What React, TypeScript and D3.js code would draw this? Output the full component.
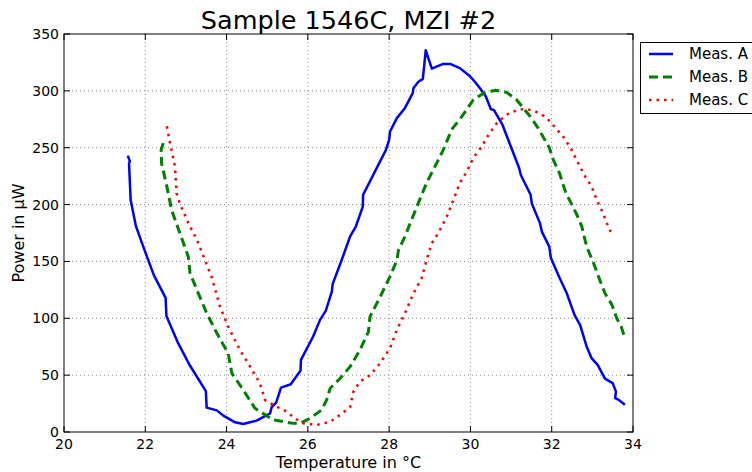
import React from "react";
import * as d3 from "d3";

const title = "Sample 1546C, MZI #2";
const xTicks = [20, 22, 24, 26, 28, 30, 32, 34];
const yTicks = [0, 50, 100, 150, 200, 250, 300, 350];

const tempA = [21.57, 21.62, 21.6, 21.64, 21.77, 21.95, 22.21, 22.5, 22.52, 22.79, 23.08, 23.49, 23.51, 23.76, 23.92, 24.21, 24.41, 24.74, 25.07, 25.11, 25.22, 25.34, 25.58, 25.82, 25.83, 26.13, 26.3, 26.44, 26.59, 26.61, 26.83, 27.04, 27.18, 27.35, 27.36, 27.65, 27.92, 28.0, 28.02, 28.19, 28.39, 28.58, 28.6, 28.72, 28.83, 28.9, 29.05, 29.33, 29.5, 29.74, 29.99, 30.11, 30.24, 30.38, 30.5, 30.58, 30.79, 30.93, 31.2, 31.24, 31.48, 31.51, 31.71, 31.76, 31.94, 31.98, 32.2, 32.37, 32.56, 32.7, 32.86, 32.98, 33.13, 33.31, 33.5, 33.58, 33.56, 33.66, 33.8];
const powerA = [243, 238, 236, 204, 181, 163, 138, 118, 102, 79.5, 59.6, 36, 21.4, 19, 14.4, 8.5, 7, 10, 16.4, 22, 25.8, 39, 42, 54, 63.4, 84, 98.6, 106.5, 123.5, 130, 151, 172, 180.7, 198, 208.6, 229, 248, 257, 264, 276, 285, 298, 302.5, 308, 310.5, 335.7, 319.5, 323.7, 323.7, 320, 312.8, 308, 302, 295, 284, 283, 270, 257, 232, 226, 208.6, 201, 183.7, 176, 163, 153, 135, 122, 103, 94, 75, 65, 59, 47, 43, 35.5, 29.7, 28, 24];

const tempB = [22.44, 22.39, 22.4, 22.53, 22.65, 22.85, 23.06, 23.1, 23.27, 23.51, 23.76, 24.04, 24.13, 24.41, 24.7, 25.15, 25.64, 25.81, 26.05, 26.34, 26.46, 26.55, 26.79, 27.04, 27.28, 27.49, 27.53, 27.78, 28.02, 28.19, 28.23, 28.39, 28.68, 28.92, 29.17, 29.33, 29.54, 29.79, 30.07, 30.32, 30.61, 30.89, 31.14, 31.47, 31.67, 31.94, 32.04, 32.19, 32.35, 32.48, 32.62, 32.74, 32.86, 33.03, 33.15, 33.31, 33.48, 33.6, 33.71, 33.8];
const powerB = [254, 248, 236.5, 216, 195, 175, 154, 139.7, 125, 104.5, 87, 69, 51.6, 37, 20.8, 10.6, 7.6, 7.6, 12, 19.4, 28, 38.5, 47, 57.5, 72, 88, 101.5, 119, 136.7, 151, 160, 172, 198, 219, 236.5, 248, 266, 277.5, 292, 298, 300.5, 298.7, 292, 277.5, 267, 250, 239.4, 227.7, 210, 201, 191, 180.7, 163, 148.5, 136.7, 122, 112, 100, 92.7, 82.5];

const tempC = [22.53, 22.61, 22.73, 22.77, 22.85, 23.06, 23.27, 23.47, 23.63, 23.84, 24.04, 24.33, 24.58, 24.82, 24.95, 25.15, 25.48, 25.68, 25.89, 26.22, 26.55, 26.79, 27.04, 27.12, 27.28, 27.53, 27.78, 28.02, 28.19, 28.39, 28.6, 28.8, 28.92, 29.05, 29.21, 29.42, 29.58, 29.74, 29.91, 30.07, 30.28, 30.44, 30.65, 30.89, 31.18, 31.38, 31.59, 31.86, 32.08, 32.31, 32.49, 32.63, 32.8, 32.98, 33.11, 33.26, 33.39, 33.45];
const powerC = [268.8, 254, 233.5, 210, 201, 183.7, 169, 151, 136.7, 110, 92.7, 72, 57.5, 42.8, 28, 23.8, 17.9, 12, 7.6, 6.2, 9, 15, 22, 35.5, 44.3, 50, 60.5, 73.7, 89.8, 104.5, 122, 135.3, 151, 166, 175, 189.5, 204, 219, 229, 241, 251, 261, 271.7, 279, 283.5, 284, 282, 277, 268, 258.5, 248, 238, 226, 216, 204, 192.5, 180.7, 176];

const seriesNames = ["Meas. A", "Meas. B", "Meas. C"];

const W = 752, H = 472;
const M = { left: 64, right: 633, top: 34, bottom: 432 };
const FONT = "DejaVu Sans, sans-serif";

export default function App() {
  const x = d3.scaleLinear().domain([20, 34]).range([M.left, M.right]);
  const y = d3.scaleLinear().domain([0, 350]).range([M.bottom, M.top]);
  const line = d3.line<[number, number]>().x(d => x(d[0])).y(d => y(d[1]));
  const series = [
    { name: seriesNames[0], t: tempA, p: powerA, color: "#0000ff", width: 2.5, dash: undefined as string | undefined },
    { name: seriesNames[1], t: tempB, p: powerB, color: "#008000", width: 3, dash: "9,5" },
    { name: seriesNames[2], t: tempC, p: powerC, color: "#ff0000", width: 2.5, dash: "2.5,5" },
  ];
  return (
    <div style={{ position: "absolute", left: 0, top: 0 }}>
      <svg width={W} height={H} style={{ display: "block", background: "#fff" }} fontFamily={FONT}>
        <rect x={0} y={0} width={W} height={H} fill="#fff" />
        <defs>
          <clipPath id="plotclip">
            <rect x={M.left} y={M.top} width={M.right - M.left} height={M.bottom - M.top} />
          </clipPath>
        </defs>
        {xTicks.slice(1, -1).map(t => (
          <line key={"gx" + t} x1={x(t)} x2={x(t)} y1={M.top} y2={M.bottom} stroke="#888" strokeWidth={1} strokeDasharray="1,3" />
        ))}
        {yTicks.slice(1, -1).map(t => (
          <line key={"gy" + t} x1={M.left} x2={M.right} y1={y(t)} y2={y(t)} stroke="#888" strokeWidth={1} strokeDasharray="1,3" />
        ))}
        <g clipPath="url(#plotclip)">
          {series.map(s => (
            <path key={s.name} d={line(s.t.map((t, i) => [t, s.p[i]] as [number, number])) || ""} fill="none" stroke={s.color} strokeWidth={s.width} strokeDasharray={s.dash} strokeLinejoin="round" />
          ))}
        </g>
        {xTicks.map(t => (
          <g key={"tx" + t}>
            <line x1={x(t)} x2={x(t)} y1={M.bottom} y2={M.bottom - 6} stroke="#000" />
            <line x1={x(t)} x2={x(t)} y1={M.top} y2={M.top + 6} stroke="#000" />
            <text x={x(t)} y={M.bottom + 17} fontSize={14} textAnchor="middle">{t}</text>
          </g>
        ))}
        {yTicks.map(t => (
          <g key={"ty" + t}>
            <line x1={M.left} x2={M.left + 6} y1={y(t)} y2={y(t)} stroke="#000" />
            <line x1={M.right} x2={M.right - 6} y1={y(t)} y2={y(t)} stroke="#000" />
            <text x={M.left - 5} y={y(t) + 5} fontSize={14} textAnchor="end">{t}</text>
          </g>
        ))}
        <rect x={M.left} y={M.top} width={M.right - M.left} height={M.bottom - M.top} fill="none" stroke="#000" strokeWidth={1} />
        <text x={(M.left + M.right) / 2} y={29} fontSize={25.5} textAnchor="middle">{title}</text>
        <text x={(M.left + M.right) / 2} y={468} fontSize={16} textAnchor="middle">Temperature in °C</text>
        <text transform={`translate(24, ${(M.top + M.bottom) / 2}) rotate(-90)`} fontSize={16} textAnchor="middle">Power in µW</text>
        <g>
          <rect x={640.5} y={42.5} width={120} height={71} fill="#fff" stroke="#000" strokeWidth={1} />
          {series.map((s, i) => (
            <g key={"lg" + s.name}>
              <line x1={649} x2={673} y1={54 + i * 23} y2={54 + i * 23} stroke={s.color} strokeWidth={s.width} strokeDasharray={s.dash} />
              <text x={689} y={59 + i * 23} fontSize={15}>{s.name}</text>
            </g>
          ))}
        </g>
      </svg>
    </div>
  );
}
